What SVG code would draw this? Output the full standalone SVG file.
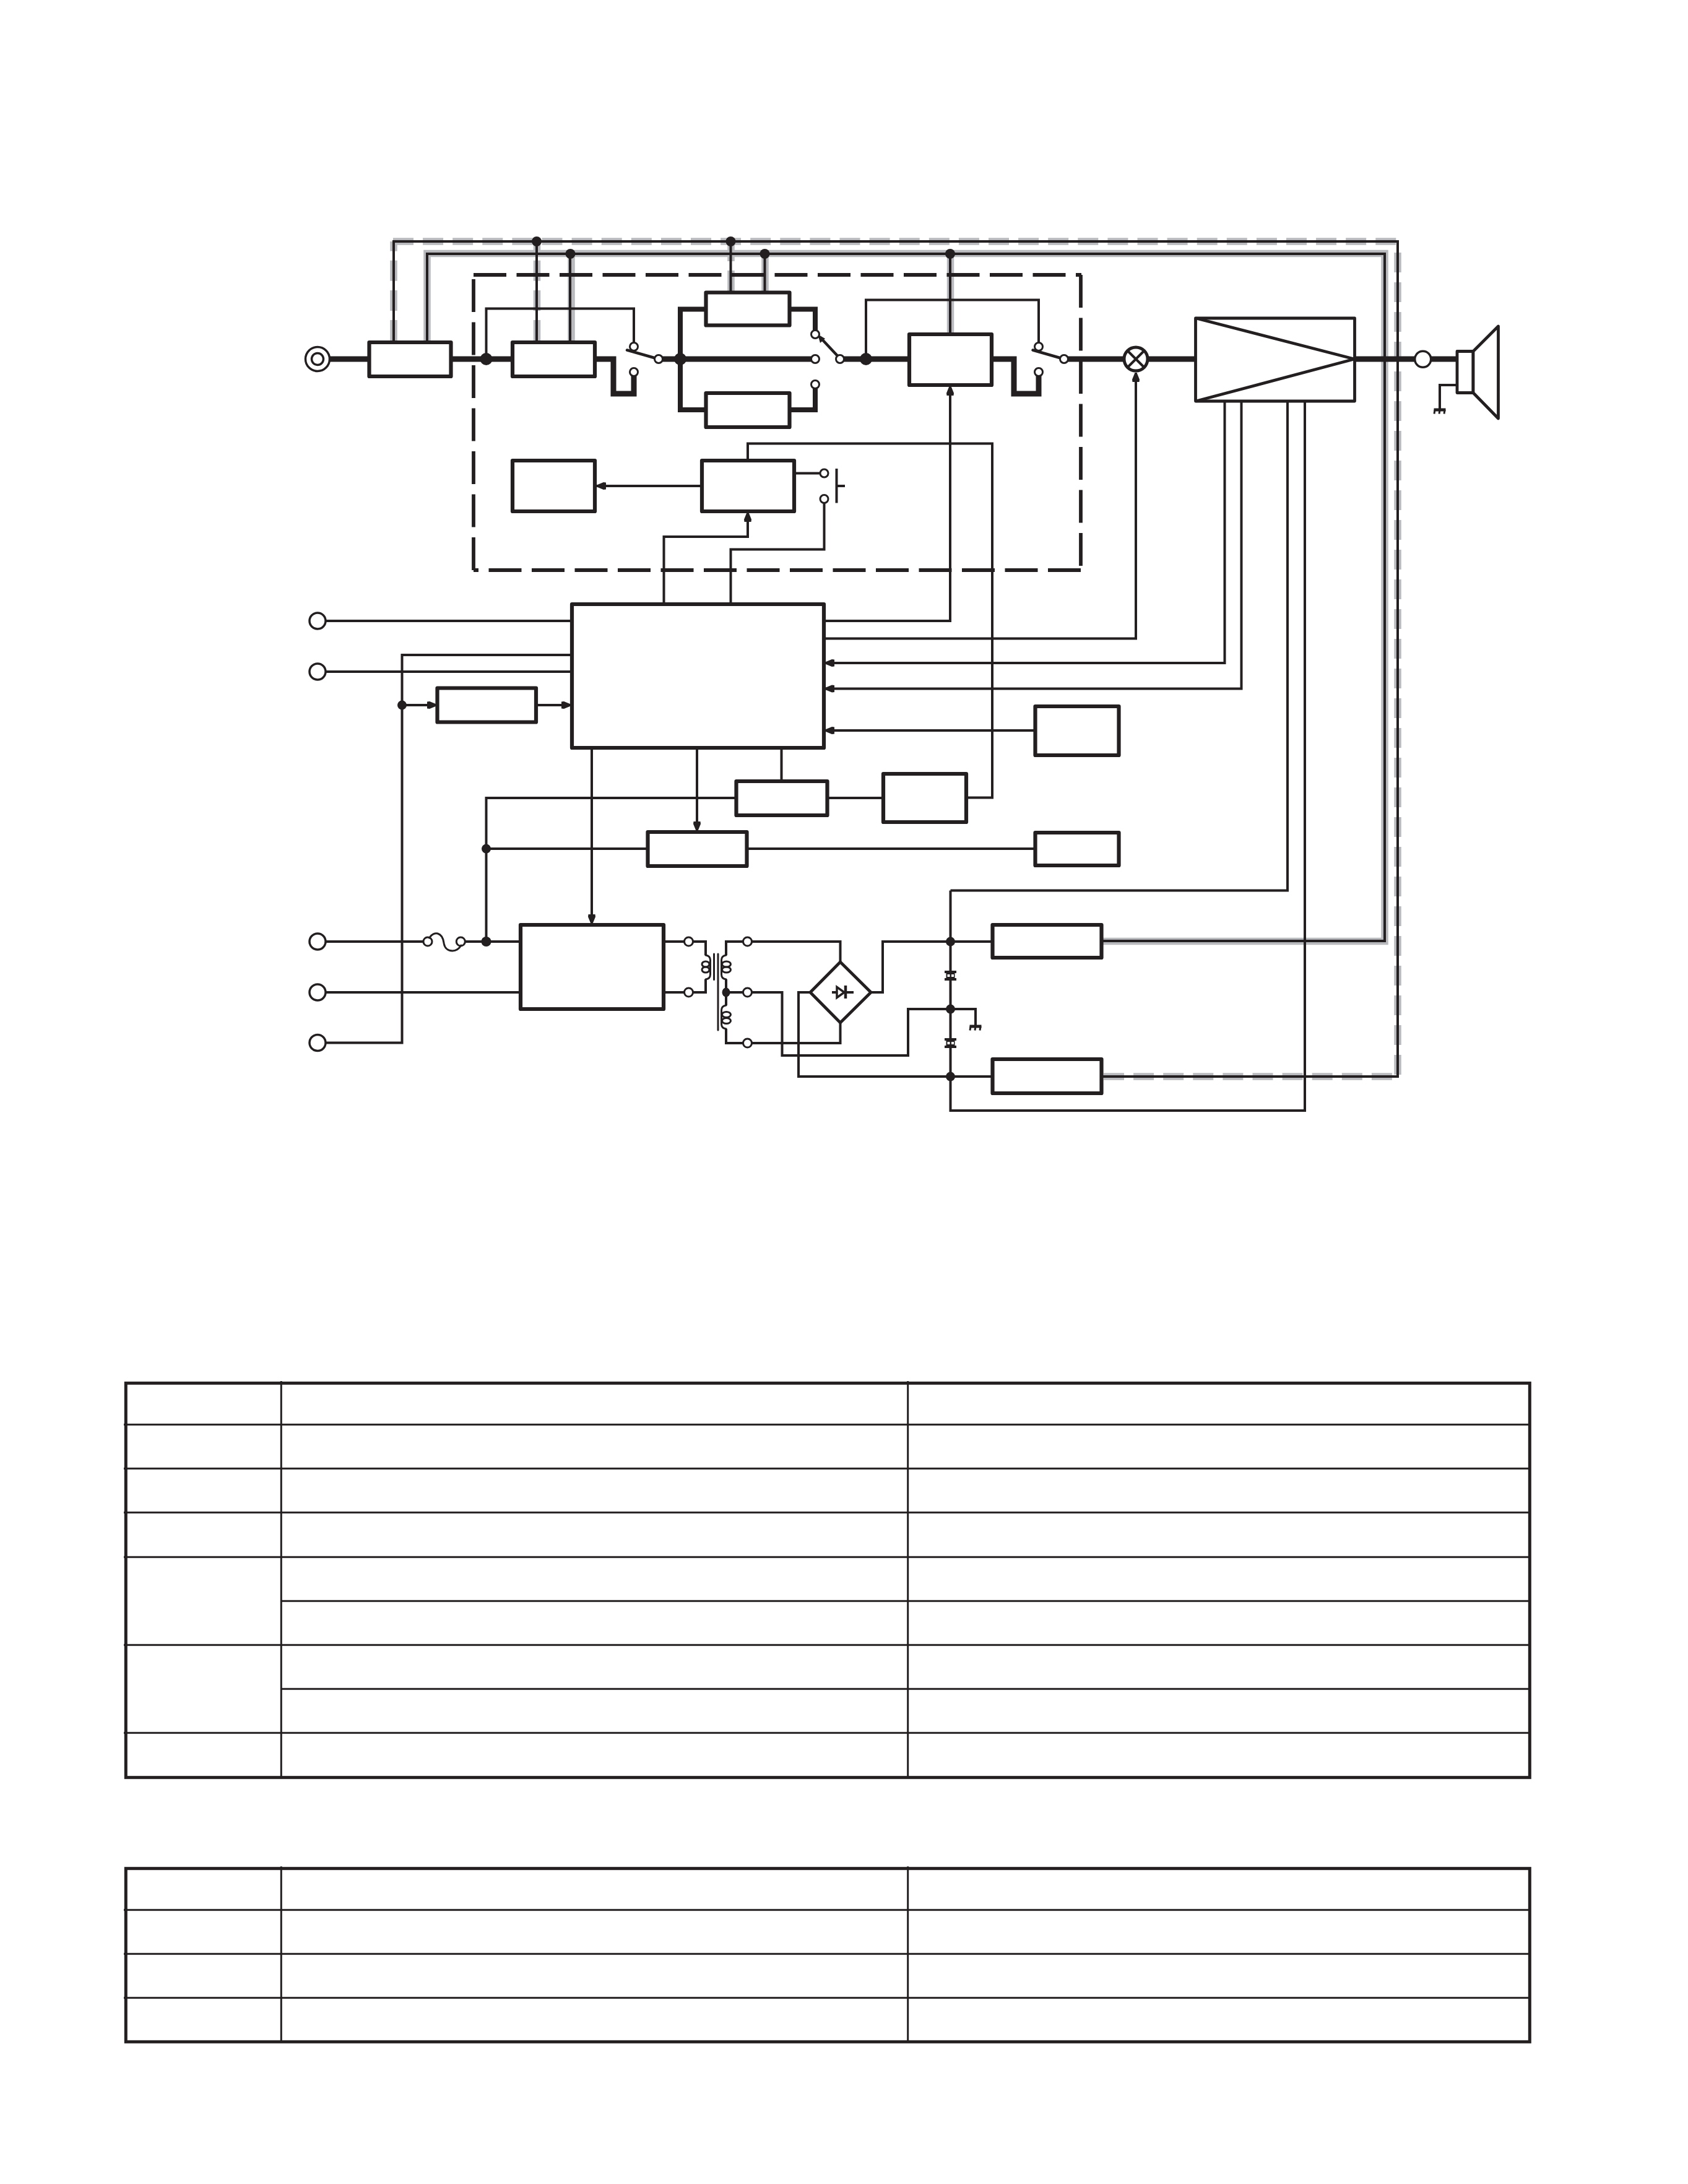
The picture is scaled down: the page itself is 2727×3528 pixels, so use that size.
<svg xmlns="http://www.w3.org/2000/svg" width="2727" height="3528" viewBox="0 0 2727 3528">
  <style>
    .bg { fill: #fff; }
    .shield { fill: none; stroke: #b9babd; stroke-width: 11.5; }
    .shield-dash { stroke-dasharray: 33 15.1; }
    .wire { fill: none; stroke: #231f20; stroke-width: 4; stroke-linejoin: miter; }
    .sig { fill: none; stroke: #231f20; stroke-width: 9; stroke-linejoin: miter; }
    .sig-thin { fill: none; stroke: #231f20; stroke-width: 8; stroke-linejoin: miter; }
    .arm { fill: none; stroke: #231f20; stroke-width: 4.5; stroke-linecap: round; }
    .dash { fill: none; stroke: #231f20; stroke-width: 5.8; stroke-dasharray: 53 16.5; }
    .box { fill: #fff; stroke: #231f20; stroke-width: 6.2; stroke-linejoin: round; }
    .box-thin { fill: #fff; stroke: #231f20; stroke-width: 4.8; stroke-linejoin: round; }
    .term { fill: #fff; stroke: #231f20; stroke-width: 3; }
    .jack { fill: #fff; stroke: #231f20; stroke-width: 3.5; }
    .dot { fill: #231f20; stroke: none; }
    .coil { fill: none; stroke: #231f20; stroke-width: 3; stroke-linecap: round; }
    .tb-outer { fill: none; stroke: #231f20; stroke-width: 5; stroke-linejoin: miter; }
    .tb-in { fill: none; stroke: #231f20; stroke-width: 3; }
  </style>
  <defs>
    <marker id="arrow" markerUnits="userSpaceOnUse" markerWidth="16" markerHeight="14" refX="15" refY="7" orient="auto">
      <path d="M0 1.5 L4 1 L15 5.5 L15 8.5 L4 13 L0 12.5 Z" fill="#231f20"/>
    </marker>
    <g id="gnd">
      <path d="M-9.5 0 H9.5" stroke="#231f20" stroke-width="5" fill="none"/>
      <path d="M-8 0 L-9 6.5 M0 0 L-1 6.5 M8 0 L7 6.5" stroke="#231f20" stroke-width="3" fill="none"/>
    </g>
    <g id="cap">
      <path d="M-9.5 -6 H9.5 M-9.5 6 H9.5" stroke="#231f20" stroke-width="4" fill="none"/>
      <rect x="-7" y="-6" width="14" height="12" fill="#231f20"/>
      <rect x="-5" y="-2" width="4" height="4" fill="#fff"/>
      <rect x="1.5" y="-2" width="4" height="4" fill="#fff"/>
    </g>
  </defs>

  <rect class="bg" width="2727" height="3528"/>

  <g id="shields">
    <path class="shield shield-dash" d="M636 550 V390"/>
    <path class="shield shield-dash" d="M635 390 H2258"/>
    <path class="shield" style="stroke-dasharray:32 16" d="M2258 408 V1745"/>
    <path class="shield shield-dash" d="M1783 1739 H2258"/>
    <path class="shield shield-dash" d="M867.5 550 V394"/>
    <path class="shield shield-dash" d="M1181 470 V394"/>
    <path class="shield" d="M690 550 V409.5 H2237 V1520.5 H1781"/>
    <path class="shield" d="M923 550 V410"/>
    <path class="shield" d="M1236 470 V410"/>
    <path class="shield" d="M1535.5 540 V410"/>
  </g>

  <g id="module-outline">
    <path class="dash" d="M765 921 V444"/>
    <path class="dash" d="M765 444 H1747"/>
    <path class="dash" d="M1746 444 V921"/>
    <path class="dash" d="M1746 921 H765"/>
  </g>

  <g id="connectors">
    <!-- supply rails along the top edge -->
    <path class="wire" d="M636 552 V390 H2258 V1739 H1781"/>
    <path class="wire" d="M690 552 V410 H2237 V1520 H1781"/>
    <path class="wire" d="M867 552 V390 M921 552 V410 M1180.5 470 V390 M1235.5 470 V410 M1535 538 V410"/>

    <!-- audio path -->
    <path class="sig" d="M530 580 H596 M729 580 H828 M961 580 H991 V636 H1024 V601"/>
    <path class="sig" d="M1064 580 H1317"/>
    <path class="sig-thin" d="M1140 499.5 H1099 V662 H1140 M1275 499.5 H1317 V540 M1275 662 H1317 V621"/>
    <path class="sig" d="M1357 580 H1469 M1602 580 H1638 V636 H1678 V601"/>
    <path class="sig" d="M1719 580 H1816 M1854 580 H1932 M2188 580 H2285 M2312 580 H2354"/>

    <!-- switch bypass feeds -->
    <path class="wire" d="M785.5 580 V498.5 H1024 V553"/>
    <path class="wire" d="M1399 580 V484.5 H1678 V553"/>

    <!-- switch arms -->
    <path class="arm" d="M1064 580 L1013 565.5"/>
    <path class="arm" d="M1719 580 L1668.5 565.5"/>
    <path class="arm" d="M1356 578 L1326 546"/>
    <path d="M1321 540 L1333 547 L1325 554 Z" fill="#231f20"/>

    <!-- display and key block -->
    <path class="wire" marker-end="url(#arrow)" d="M1134 785 H964"/>
    <path class="wire" d="M1283 764.5 H1331"/>
    <path class="wire" d="M1351.5 757 V812.5 M1351.5 785 H1365"/>
    <path class="wire" d="M1208 744 V716.5 H1603 V1288.5 H1561"/>
    <path class="wire" marker-end="url(#arrow)" d="M1072.5 976 V867 H1208 V828"/>
    <path class="wire" d="M1180.5 976 V887.5 H1331.5 V812"/>

    <!-- controller outputs and inputs -->
    <path class="wire" marker-end="url(#arrow)" d="M1331 1003 H1535 V624"/>
    <path class="wire" marker-end="url(#arrow)" d="M1331 1031.5 H1835 V602"/>
    <path class="wire" marker-end="url(#arrow)" d="M1978.5 648 V1071 H1333"/>
    <path class="wire" marker-end="url(#arrow)" d="M2005.5 648 V1112.5 H1333"/>
    <path class="wire" marker-end="url(#arrow)" d="M1672 1180 H1333"/>

    <!-- left-hand inputs -->
    <path class="wire" d="M526 1003 H924"/>
    <path class="wire" d="M526 1085 H924"/>
    <path class="wire" d="M526 1684.5 H649.5 V1058 H924"/>
    <path class="wire" marker-end="url(#arrow)" d="M649.5 1139 H705"/>
    <path class="wire" marker-end="url(#arrow)" d="M866 1139 H922"/>

    <!-- lower controller feeds -->
    <path class="wire" marker-end="url(#arrow)" d="M956 1208 V1492"/>
    <path class="wire" marker-end="url(#arrow)" d="M1126 1208 V1342"/>
    <path class="wire" d="M1262.5 1208 V1262"/>
    <path class="wire" d="M1189 1289 H785.5 V1521"/>
    <path class="wire" d="M785.5 1371 H1046"/>
    <path class="wire" d="M1206 1371 H1672"/>
    <path class="wire" d="M1336 1289 H1427"/>

    <!-- mains inputs -->
    <path class="wire" d="M526 1521 H683 M752 1521 H841"/>
    <path class="wire" d="M526 1603 H841"/>

    <!-- transformer and rectifier wiring -->
    <path class="wire" d="M1072 1521 H1140 V1543 M1140 1582 V1603 H1072"/>
    <path class="wire" d="M1207 1521 H1173 V1543 M1173 1582 V1624 M1173 1662 V1685 H1357.5 V1652"/>
    <path class="wire" d="M1207 1521 H1357.5 V1554"/>
    <path class="wire" d="M1173 1603 H1263.5 V1705 H1467 V1630 H1576 V1657"/>
    <path class="wire" d="M1407 1603 H1426 V1521 H1603"/>
    <path class="wire" d="M1310 1603 H1290 V1739 H1603"/>
    <path class="wire" d="M1535.5 1438.5 V1794 H2108 V648"/>
    <path class="wire" d="M1535.5 1438.5 H2080 V648"/>

    <!-- speaker ground -->
    <path class="wire" d="M2352 622 H2326 V662"/>
  </g>

  <g id="input-jack">
    <circle class="jack" cx="513" cy="580" r="19.5"/>
    <circle class="jack" cx="513" cy="580" r="9.5"/>
  </g>
  <g id="box-input"><rect class="box" x="596.5" y="553" width="132" height="55"/></g>
  <g id="box-stage1"><rect class="box" x="828" y="553" width="133" height="55"/></g>
  <g id="box-stage2a"><rect class="box" x="1140.5" y="472.5" width="135" height="53"/></g>
  <g id="box-stage2b"><rect class="box" x="1140.5" y="635" width="135" height="55"/></g>
  <g id="box-stage3"><rect class="box" x="1469" y="540" width="133" height="82"/></g>
  <g id="box-display"><rect class="box" x="828" y="744" width="133" height="82"/></g>
  <g id="box-driver"><rect class="box" x="1134" y="744" width="149" height="82"/></g>

  <g id="switches">
    <circle class="term" cx="1024" cy="560" r="6.5"/>
    <circle class="term" cx="1024" cy="601" r="6.5"/>
    <circle class="term" cx="1064" cy="580" r="6.5"/>
    <circle class="term" cx="1317" cy="540" r="6.5"/>
    <circle class="term" cx="1317" cy="580" r="6.5"/>
    <circle class="term" cx="1317" cy="621" r="6.5"/>
    <circle class="term" cx="1357" cy="580" r="6.5"/>
    <circle class="term" cx="1678" cy="560" r="6.5"/>
    <circle class="term" cx="1678" cy="601" r="6.5"/>
    <circle class="term" cx="1719" cy="580" r="6.5"/>
    <circle class="term" cx="1331.5" cy="764.5" r="6.5"/>
    <circle class="term" cx="1331.5" cy="806" r="6.5"/>
  </g>

  <g id="lamp">
    <circle class="jack" style="stroke-width:5" cx="1835" cy="580" r="19"/>
    <path class="wire" d="M1822 567 L1848 593 M1848 567 L1822 593"/>
  </g>

  <g id="amplifier">
    <rect class="box-thin" x="1931.5" y="514" width="257" height="134"/>
    <path class="box-thin" style="fill:none" d="M1932 514 L2188 580 L1932 648"/>
  </g>

  <g id="output-terminal"><circle class="jack" cx="2298.7" cy="580.3" r="13"/></g>
  <g id="speaker">
    <rect class="box-thin" x="2354" y="567.5" width="26" height="67"/>
    <path class="box-thin" d="M2380 567.5 L2420.5 527 V676 L2380 634.5 Z"/>
    <use href="#gnd" x="2326" y="662"/>
  </g>

  <g id="controller"><rect class="box" x="924" y="976" width="407" height="232"/></g>
  <g id="box-ref"><rect class="box" x="706.5" y="1111.5" width="159.5" height="55"/></g>
  <g id="box-sensor"><rect class="box" x="1672.5" y="1141" width="135" height="79"/></g>
  <g id="box-reg-a"><rect class="box" x="1189.5" y="1262" width="147" height="55"/></g>
  <g id="box-reg-b"><rect class="box" x="1427" y="1250" width="134" height="78"/></g>
  <g id="box-reg-c"><rect class="box" x="1046.5" y="1344" width="160" height="55"/></g>
  <g id="box-aux"><rect class="box" x="1672.5" y="1345" width="135" height="53"/></g>
  <g id="box-power"><rect class="box" x="841" y="1494" width="231" height="136"/></g>
  <g id="box-plus"><rect class="box" x="1603.5" y="1494" width="176" height="53"/></g>
  <g id="box-minus"><rect class="box" x="1603.5" y="1711" width="176" height="55"/></g>

  <g id="jacks-left">
    <circle class="jack" cx="513" cy="1003" r="13"/>
    <circle class="jack" cx="513" cy="1085" r="13"/>
    <circle class="jack" cx="513" cy="1521" r="13"/>
    <circle class="jack" cx="513" cy="1603" r="13"/>
    <circle class="jack" cx="513" cy="1684.5" r="13"/>
  </g>

  <g id="fuse">
    <circle class="term" cx="691" cy="1521" r="7"/>
    <circle class="term" cx="744.3" cy="1521" r="7"/>
    <path class="coil" d="M693.5 1515 C697 1509 703 1507 707 1508 C714 1510 716 1516 717 1523 C718 1531 723 1536 731 1536 C737 1536 742 1532 745 1527"/>
  </g>

  <g id="transformer">
    <circle class="term" cx="1112.5" cy="1521" r="7"/>
    <circle class="term" cx="1112.5" cy="1603" r="7"/>
    <circle class="term" cx="1207.5" cy="1521" r="7"/>
    <circle class="term" cx="1207.5" cy="1603" r="7"/>
    <circle class="term" cx="1207.5" cy="1685" r="7"/>
    <path class="coil" d="M1153.5 1541 V1582.5 M1160 1541 V1664"/>
    <path class="coil" d="M1140 1543 Q1147.5 1544 1147.5 1551 V1574 Q1147.5 1581 1140 1582"/>
    <ellipse class="coil" cx="1140" cy="1557.5" rx="6" ry="4.5"/>
    <ellipse class="coil" cx="1140" cy="1566.5" rx="6" ry="4.5"/>
    <path class="coil" d="M1173 1543 Q1165.5 1544 1165.5 1551 V1574 Q1165.5 1581 1173 1582"/>
    <ellipse class="coil" cx="1173.5" cy="1557.5" rx="7" ry="4.5"/>
    <ellipse class="coil" cx="1173.5" cy="1566.5" rx="7" ry="4.5"/>
    <path class="coil" d="M1173 1624 Q1165.5 1625 1165.5 1632 V1654 Q1165.5 1661 1173 1662"/>
    <ellipse class="coil" cx="1173.5" cy="1639" rx="7" ry="4.5"/>
    <ellipse class="coil" cx="1173.5" cy="1649" rx="7" ry="4.5"/>
    <ellipse class="dot" cx="1173" cy="1603" rx="6.5" ry="7.5"/>
  </g>

  <g id="rectifier">
    <path class="box-thin" d="M1357.5 1554 L1407 1603 L1357.5 1652 L1309 1603 Z"/>
    <path class="wire" d="M1344 1603 H1379"/>
    <path d="M1352 1594.5 L1364 1603 L1352 1611.5 Z" fill="#fff" stroke="#231f20" stroke-width="3.5"/>
    <path d="M1366 1592 V1613" stroke="#231f20" stroke-width="4.5" fill="none"/>
  </g>

  <g id="filter">
    <use href="#cap" x="1535.5" y="1576"/>
    <use href="#cap" x="1535.5" y="1685"/>
    <use href="#gnd" x="1576" y="1658"/>
  </g>

  <g id="junctions">
    <circle class="dot" cx="867" cy="390" r="8"/>
    <circle class="dot" cx="921.5" cy="410" r="8"/>
    <circle class="dot" cx="1180.5" cy="390" r="8"/>
    <circle class="dot" cx="1235.5" cy="410" r="8"/>
    <circle class="dot" cx="1535" cy="410" r="8"/>
    <circle class="dot" cx="785.5" cy="580" r="10"/>
    <circle class="dot" cx="1099" cy="580" r="10"/>
    <circle class="dot" cx="1399" cy="580" r="10"/>
    <circle class="dot" cx="649.5" cy="1139" r="7.5"/>
    <circle class="dot" cx="785.5" cy="1371" r="7.5"/>
    <circle class="dot" cx="785.5" cy="1521" r="8"/>
    <circle class="dot" cx="1535.5" cy="1521" r="7.5"/>
    <circle class="dot" cx="1535.5" cy="1630" r="7.5"/>
    <circle class="dot" cx="1535.5" cy="1739" r="7.5"/>
  </g>

  <g id="table-upper">
    <path class="tb-in" d="M200 2301.3 H2471 M200 2372.3 H2471 M200 2443.3 H2471 M200 2515.3 H2471 M454.3 2586.3 H2471 M200 2657.3 H2471 M454.3 2728.3 H2471 M200 2799.3 H2471"/>
    <path class="tb-in" d="M454.3 2231 V2871 M1466.7 2231 V2871"/>
    <rect class="tb-outer" x="203.3" y="2234.3" width="2268" height="637"/>
  </g>

  <g id="table-lower">
    <path class="tb-in" d="M200 3085.3 H2471 M200 3156.3 H2471 M200 3227.3 H2471"/>
    <path class="tb-in" d="M454.3 3015 V3298 M1466.7 3015 V3298"/>
    <rect class="tb-outer" x="203.3" y="3018.3" width="2268" height="280"/>
  </g>
</svg>
